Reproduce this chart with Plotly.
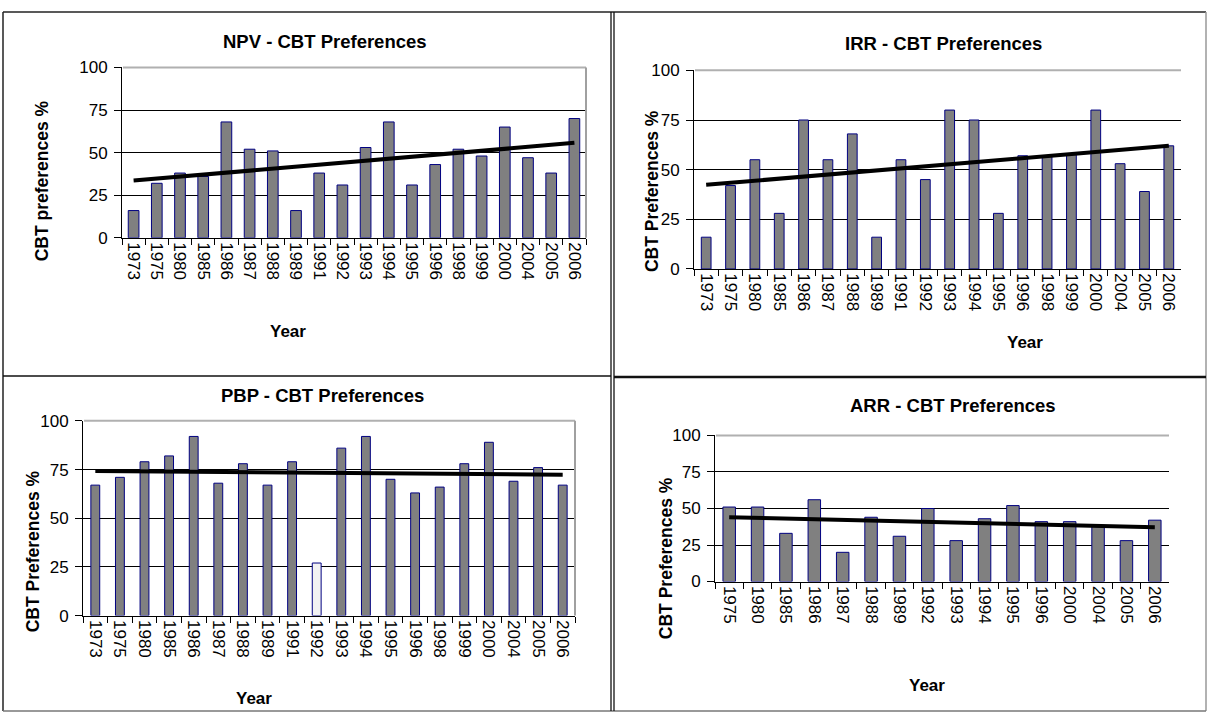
import numpy as np
import plotly.graph_objects as go

# ---------------- data ----------------
npv_years = ["1973", "1975", "1980", "1985", "1986", "1987", "1988", "1989", "1991", "1992",
             "1993", "1994", "1995", "1996", "1998", "1999", "2000", "2004", "2005", "2006"]
npv_values = [16, 32, 38, 36, 68, 52, 51, 16, 38, 31, 53, 68, 31, 43, 52, 48, 65, 47, 38, 70]

irr_years = ["1973", "1975", "1980", "1985", "1986", "1987", "1988", "1989", "1991", "1992",
             "1993", "1994", "1995", "1996", "1998", "1999", "2000", "2004", "2005", "2006"]
irr_values = [16, 42, 55, 28, 75, 55, 68, 16, 55, 45, 80, 75, 28, 57, 57, 58, 80, 53, 39, 62]

pbp_years = ["1973", "1975", "1980", "1985", "1986", "1987", "1988", "1989", "1991", "1992",
             "1993", "1994", "1995", "1996", "1998", "1999", "2000", "2004", "2005", "2006"]
pbp_values = [67, 71, 79, 82, 92, 68, 78, 67, 79, 27, 86, 92, 70, 63, 66, 78, 89, 69, 76, 67]
pbp_highlight_year = "1992"

arr_years = ["1975", "1980", "1985", "1986", "1987", "1988", "1989", "1992", "1993", "1994",
             "1995", "1996", "2000", "2004", "2005", "2006"]
arr_values = [51, 51, 33, 56, 20, 44, 31, 50, 28, 43, 52, 41, 41, 38, 28, 42]

y_ticks = [0, 25, 50, 75, 100]

# ---------------- layout helpers ----------------
W, H = 1207, 722
FONT = "Liberation Sans, Arial, sans-serif"


def px_x(x):
    return x / W


def px_y(y):
    return 1 - y / H


panels = [
    dict(title="NPV - CBT Preferences", ytitle="CBT preferences %", years=npv_years, values=npv_values,
         plot=(122, 586, 60, 235), title_pos=(325, 33), ytitle_pos=(42, 177), xtitle_pos=(288, 331),
         barwidth=0.46, border="box", highlight=None),
    dict(title="IRR - CBT Preferences", ytitle="CBT Preferences %", years=irr_years, values=irr_values,
         plot=(694, 1181, 63, 267), title_pos=(943, 35), ytitle_pos=(652, 187), xtitle_pos=(1025, 343),
         barwidth=0.40, border="top", highlight=None),
    dict(title="PBP - CBT Preferences", ytitle="CBT Preferences %", years=pbp_years, values=pbp_values,
         plot=(83, 575, 423, 623), title_pos=(322, 397), ytitle_pos=(33, 557), xtitle_pos=(254, 708),
         barwidth=0.36, border="box", highlight=pbp_highlight_year),
    dict(title="ARR - CBT Preferences", ytitle="CBT Preferences %", years=arr_years, values=arr_values,
         plot=(715, 1169, 438, 588), title_pos=(953, 407), ytitle_pos=(666, 564), xtitle_pos=(927, 695),
         barwidth=0.44, border="top", highlight=None),
]

fig = go.Figure()
shapes = []
annotations = []

for i, p in enumerate(panels, start=1):
    xa = "x" if i == 1 else f"x{i}"
    ya = "y" if i == 1 else f"y{i}"
    x0, x1, y0, y1 = p["plot"]

    colors = ["#f2f2f2" if (p["highlight"] is not None and yr == p["highlight"]) else "#808080"
              for yr in p["years"]]
    fig.add_trace(go.Bar(
        x=p["years"], y=p["values"], xaxis=xa, yaxis=ya, width=p["barwidth"],
        marker=dict(color=colors, line=dict(color="#000080", width=1)),
        showlegend=False, hoverinfo="x+y",
    ))

    idx = np.arange(len(p["values"]))
    slope, intercept = np.polyfit(idx, np.array(p["values"], dtype=float), 1)
    trend = slope * idx + intercept
    fig.add_trace(go.Scatter(
        x=p["years"], y=trend, xaxis=xa, yaxis=ya, mode="lines",
        line=dict(color="black", width=4), showlegend=False, hoverinfo="skip",
    ))

    xkey = "xaxis" if i == 1 else f"xaxis{i}"
    ykey = "yaxis" if i == 1 else f"yaxis{i}"
    fig.layout[xkey] = dict(
        domain=[px_x(x0), px_x(x1)], anchor=ya, type="category",
        tickson="boundaries", ticks="outside", ticklen=6, tickcolor="black", tickwidth=1,
        tickangle=90, tickfont=dict(family=FONT, size=17, color="black"),
        showline=True, linecolor="black", linewidth=1, showgrid=False, zeroline=False,
        fixedrange=True,
    )
    fig.layout[ykey] = dict(
        domain=[px_y(y1), px_y(y0)], anchor=xa, range=[0, 100],
        tickvals=y_ticks, ticks="outside", ticklen=7, tickcolor="black", tickwidth=1,
        tickfont=dict(family=FONT, size=17, color="black"), ticklabelstandoff=3,
        showline=True, linecolor="black", linewidth=1,
        showgrid=True, gridcolor="black", gridwidth=1, zeroline=False, fixedrange=True,
    )

    # plot-area border (grey top / right)
    shapes.append(dict(type="line", xref="paper", yref="paper",
                       x0=px_x(x0 + 1), x1=px_x(x1), y0=px_y(y0), y1=px_y(y0),
                       line=dict(color="#b0b0b0", width=2)))
    if p["border"] == "box":
        shapes.append(dict(type="line", xref="paper", yref="paper",
                           x0=px_x(x1), x1=px_x(x1), y0=px_y(y0), y1=px_y(y1),
                           line=dict(color="#a0a0a0", width=2)))

    annotations.append(dict(text=f"<b>{p['title']}</b>", xref="paper", yref="paper",
                            x=px_x(p["title_pos"][0]), y=px_y(p["title_pos"][1]),
                            xanchor="center", yanchor="middle", showarrow=False,
                            font=dict(family=FONT, size=18.5, color="black")))
    annotations.append(dict(text=f"<b>{p['ytitle']}</b>", xref="paper", yref="paper",
                            x=px_x(p["ytitle_pos"][0]), y=px_y(p["ytitle_pos"][1]),
                            xanchor="center", yanchor="middle", showarrow=False, textangle=-90,
                            font=dict(family=FONT, size=17.5, color="black")))
    annotations.append(dict(text="<b>Year</b>", xref="paper", yref="paper",
                            x=px_x(p["xtitle_pos"][0]), y=px_y(p["xtitle_pos"][1]),
                            xanchor="center", yanchor="middle", showarrow=False,
                            font=dict(family=FONT, size=17, color="black")))


# frame / divider lines
def hline(y, xa, xb, color, width):
    shapes.append(dict(type="line", xref="paper", yref="paper", x0=px_x(xa), x1=px_x(xb),
                       y0=px_y(y), y1=px_y(y), line=dict(color=color, width=width)))


def vline(x, ya, yb, color, width):
    shapes.append(dict(type="line", xref="paper", yref="paper", x0=px_x(x), x1=px_x(x),
                       y0=px_y(ya), y1=px_y(yb), line=dict(color=color, width=width)))


hline(3, 3, 1206, "#222222", 1.5)
vline(3, 3, 721, "#222222", 1.5)
vline(1206, 3, 721, "#999999", 1.5)
hline(721, 3, 1206, "#777777", 1.5)
vline(611, 3, 721, "#111111", 1.3)
vline(614, 3, 721, "#111111", 1.3)
hline(377, 3, 611, "#111111", 1.5)
hline(378, 614, 1206, "#111111", 2.5)

fig.update_layout(
    width=W, height=H, margin=dict(l=0, r=0, t=0, b=0),
    paper_bgcolor="white", plot_bgcolor="white",
    shapes=shapes, annotations=annotations, showlegend=False,
    font=dict(family=FONT, color="black"),
)

fig.write_html(
    "out.html",
    config={"displayModeBar": False},
    post_script=("document.body.style.margin='0';"
                 "document.body.style.overflow='hidden';"
                 "document.documentElement.style.overflow='hidden';"),
)
